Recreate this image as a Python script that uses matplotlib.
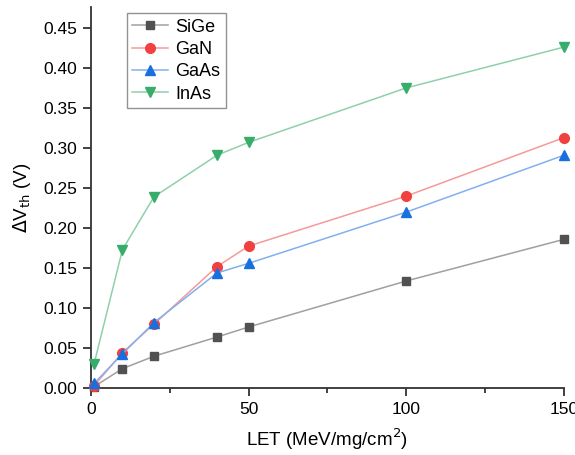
import matplotlib
matplotlib.use('Agg')
import numpy as np
import matplotlib.pyplot as plt
from matplotlib.ticker import MultipleLocator

plt.rcParams['font.family'] = ['Liberation Sans', 'DejaVu Sans']

let = [1, 10, 20, 40, 50, 100, 150]
sige = [0.002, 0.0245, 0.040, 0.064, 0.0765, 0.134, 0.186]
gan = [0.003, 0.0445, 0.080, 0.152, 0.1775, 0.240, 0.313]
gaas = [0.006, 0.043, 0.082, 0.144, 0.156, 0.220, 0.291]
inas = [0.030, 0.173, 0.239, 0.291, 0.307, 0.375, 0.426]

names = ['SiGe', 'GaN', 'GaAs', 'InAs']
marker_cols = ['#515151', '#F14040', '#1A6FDF', '#37AD6B']
line_cols = ['#a0a0a0', '#f59a9a', '#82b0ee', '#8fd0aa']
markers = ['s', 'o', '^', 'v']
msizes = [6, 7, 7.5, 7.5]

fig = plt.figure(figsize=(5.75, 4.55), dpi=100)
ax = fig.add_axes([0.158, 0.1466, 0.823, 0.838])

for ys, name, mc, lc, mk, ms in zip([sige, gan, gaas, inas], names, marker_cols, line_cols, markers, msizes):
    ax.plot(let, ys, color=lc, lw=1.1, marker=mk, markersize=ms,
            markerfacecolor=mc, markeredgecolor=mc, label=name, clip_on=False, zorder=3)

ax.set_xlim(0, 150)
ax.set_ylim(0, 0.476)
ax.xaxis.set_major_locator(MultipleLocator(50))
ax.xaxis.set_minor_locator(MultipleLocator(25))
ax.yaxis.set_major_locator(MultipleLocator(0.05))
ax.yaxis.set_major_formatter(matplotlib.ticker.FormatStrFormatter('%.2f'))
ax.spines['top'].set_visible(False)
ax.spines['right'].set_visible(False)
for s in ['left', 'bottom']:
    ax.spines[s].set_linewidth(1.3)
    ax.spines[s].set_color('#333333')
ax.tick_params(which='major', direction='out', length=6, width=1.3, labelsize=12.5, color='#333333', pad=4)
ax.tick_params(which='minor', direction='out', length=3.5, width=1.3, color='#333333')

ax.set_xlabel('LET (MeV/mg/cm$^{2}$)', fontsize=13.5, labelpad=7)
ax.set_ylabel(r'$\Delta$V$_{\mathrm{th}}$ (V)', fontsize=13.5, labelpad=7)

leg = ax.legend(loc='upper left', bbox_to_anchor=(0.076, 0.984), borderaxespad=0, fontsize=13,
                frameon=True, fancybox=False, edgecolor='#777777', handlelength=2.0,
                borderpad=0.3, labelspacing=0.3, handletextpad=0.4)
leg.get_frame().set_linewidth(1.0)

fig.savefig('out.png', dpi=100)
